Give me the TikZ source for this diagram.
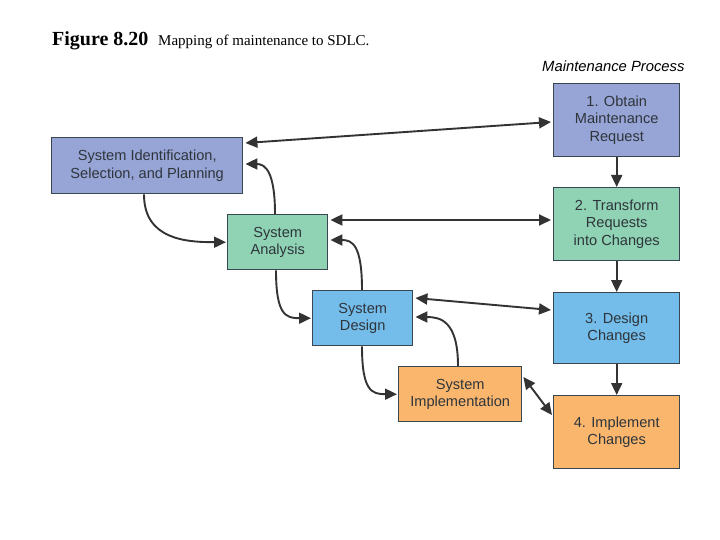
\documentclass[tikz,border=0pt]{standalone}
\usepackage{fontspec}
\setmainfont{Liberation Serif}
\newfontfamily\boxfont{Liberation Sans}
\usetikzlibrary{arrows.meta,calc}
\definecolor{cpurple}{HTML}{97A4D6}
\definecolor{cgreen}{HTML}{8FD3B4}
\definecolor{cblue}{HTML}{74BCE9}
\definecolor{corange}{HTML}{FBB66E}
\definecolor{cedge}{HTML}{3A4650}
\definecolor{ctext}{HTML}{2E353B}
\definecolor{cline}{HTML}{333333}
\tikzset{
  procbox/.style={draw=cedge, line width=1.4pt, anchor=north west, align=center,
    inner sep=0pt, text=ctext,
    font=\boxfont\fontsize{14.6}{17.5}\selectfont},
  conn/.style={draw=cline, line width=1.9pt, -{Triangle[length=12pt,width=11pt]}},
  both/.style={draw=cline, line width=1.9pt, {Triangle[length=12pt,width=11pt]}-{Triangle[length=12pt,width=11pt]}}
}
\begin{document}
\begin{tikzpicture}[x=1pt,y=-1pt]
\useasboundingbox (0,0) rectangle (720,540);
\fill[white] (0,0) rectangle (720,540);
% title
\node[anchor=base west, inner sep=0pt] (fig) at (52,46) {\fontsize{20}{22}\selectfont\bfseries Figure 8.20};
\node[anchor=base west, inner sep=0pt] (cap) at (158,46) {\fontsize{15}{17}\selectfont Mapping of maintenance to SDLC.};
\node[anchor=base west, inner sep=0pt] (mp) at (542,72) {\boxfont\itshape\fontsize{14.8}{17}\selectfont Maintenance Process};
% boxes
\node[procbox, fill=cpurple, minimum width=191pt, minimum height=56pt] (sysid) at (51,137) {System Identification,\\Selection, and Planning};
\node[procbox, fill=cpurple, minimum width=126pt, minimum height=73pt] (obtain) at (553,83) {1. Obtain\\Maintenance\\Request};
\node[procbox, fill=cgreen, minimum width=126pt, minimum height=73pt] (transform) at (553,187) {2. Transform\\Requests\\into Changes};
\node[procbox, fill=cblue, minimum width=126pt, minimum height=71pt] (dchg) at (553,292) {3. Design\\Changes};
\node[procbox, fill=corange, minimum width=126pt, minimum height=73pt] (impl4) at (553,395) {4. Implement\\Changes};
\node[procbox, fill=cgreen, minimum width=100pt, minimum height=55pt] (analysis) at (227,214) {System\\Analysis};
\node[procbox, fill=cblue, minimum width=100pt, minimum height=55pt] (design) at (312,290) {System\\Design};
\node[procbox, fill=corange, minimum width=123pt, minimum height=55pt] (implem) at (398,366) {System\\Implementation};
% straight two-way links
\draw[both] ($(sysid.north east)+(2,6)$) -- ($(obtain.north west)+(-2,39)$);
\draw[both] ($(analysis.north east)+(2,6)$) -- ($(transform.north west)+(-2,33)$);
\draw[both] ($(design.north east)+(2,8)$) -- ($(dchg.north west)+(-2,18)$);
\draw[both] ($(implem.north east)+(1,11)$) -- ($(impl4.north west)+(-1,20)$);
% maintenance sequence
\draw[conn] (obtain.south) -- (transform.north);
\draw[conn] (transform.south) -- (dchg.north);
\draw[conn] (dchg.south) -- (impl4.north);
% SDLC curves
\draw[conn] ($(sysid.south west)+(93,0)$) .. controls +(0,45) and +(-40,0) .. ($(analysis.west)+(-1,0)$);
\draw[conn] ($(analysis.north west)+(48,0)$) .. controls +(0,-42) and +(20,0) .. ($(sysid.north east)+(2,27)$);
\draw[conn] ($(analysis.south west)+(49,0)$) .. controls +(0,45) and +(-25,0) .. ($(design.west)+(-1,0)$);
\draw[conn] ($(design.north west)+(50,0)$) .. controls +(0,-45) and +(22,0) .. ($(analysis.north east)+(2,26)$);
\draw[conn] ($(design.south west)+(50,0)$) .. controls +(0,45) and +(-25,0) .. ($(implem.west)+(-1,0)$);
\draw[conn] ($(implem.north west)+(60,0)$) .. controls +(0,-45) and +(25,0) .. ($(design.north east)+(2,27)$);
\end{tikzpicture}
\end{document}
